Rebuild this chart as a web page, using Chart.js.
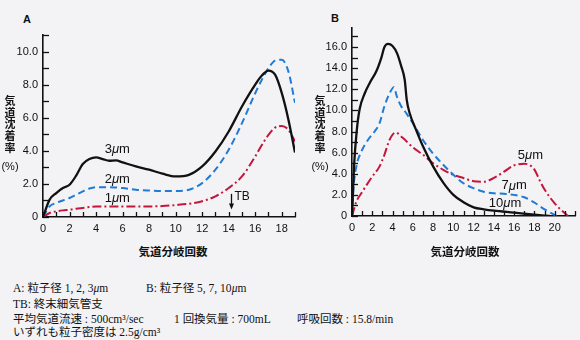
<!DOCTYPE html>
<html>
<head>
<meta charset="utf-8">
<script src="https://cdn.jsdelivr.net/npm/chart.js@4.4.1/dist/chart.umd.min.js"></script>
<style>
  html, body { margin: 0; padding: 0; }
  body { width: 580px; height: 340px; overflow: hidden; background: #f3f3f6; position: relative;
         font-family: "Liberation Sans", Arial, sans-serif; color: #111; }
  .panel { position: absolute; top: 0; }
  .ytitle { position: absolute; top: 95px; width: 20px; text-align: center;
            font: bold 11px "Noto Sans CJK JP", sans-serif; line-height: 11.7px; }
  .ytitle .pct { font: 11px "Liberation Sans", Arial, sans-serif; margin-top: 6px; }
  .xtitle { position: absolute; top: 243px; font: bold 11.5px "Noto Sans CJK JP", sans-serif; transform: translateX(-50%); white-space: nowrap; }
  .tag { position: absolute; font: bold 11px "Liberation Sans", Arial, sans-serif; }
  .cap { position: absolute; font: 11.5px "Liberation Serif", "Noto Sans CJK JP", serif; line-height: 14px; white-space: nowrap; }
</style>
</head>
<body>
<div class="tag" style="left:23px;top:13px">A</div>
<div class="tag" style="left:331px;top:12px">B</div>

<canvas id="chartA" class="panel" style="left:0" width="300" height="240"></canvas>
<canvas id="chartB" class="panel" style="left:290px" width="290" height="240"></canvas>

<div class="ytitle" style="left:0">気<br>道<br>沈<br>着<br>率<div class="pct">(%)</div></div>
<div class="ytitle" style="left:310px">気<br>道<br>沈<br>着<br>率<div class="pct">(%)</div></div>

<div class="xtitle" style="left:173px">気道分岐回数</div>
<div class="xtitle" style="left:465px">気道分岐回数</div>

<div class="cap" style="left:13px;top:281px">A: 粒子径 1, 2, 3<i>μ</i>m</div>
<div class="cap" style="left:146px;top:281px">B: 粒子径 5, 7, 10<i>μ</i>m</div>
<div class="cap" style="left:13px;top:297px">TB: 終末細気管支</div>
<div class="cap" style="left:13px;top:312px">平均気道流速 : 500cm³/sec</div>
<div class="cap" style="left:174px;top:312px">1 回換気量 : 700mL</div>
<div class="cap" style="left:297px;top:312px">呼吸回数 : 15.8/min</div>
<div class="cap" style="left:13px;top:325px">いずれも粒子密度は 2.5g/cm³</div>

<script>
// ===== DATA: panel A (particle size 1, 2, 3 um) =====
const genA = [0, 0.5, 1, 1.5, 2, 2.5, 3, 3.5, 4, 4.5, 5, 5.5, 6, 7, 8, 9, 10, 11, 12, 13, 14, 15, 16, 16.5, 17, 17.5, 18, 18.5, 19];
const dep3um = [0, 1.05, 1.45, 1.75, 1.95, 2.5, 3.2, 3.5, 3.6, 3.5, 3.4, 3.42, 3.3, 3.06, 2.86, 2.62, 2.45, 2.55, 3.06, 3.96, 5.17, 6.68, 8.0, 8.55, 8.85, 8.6, 7.5, 5.9, 3.9];
const dep2um = [0, 0.64, 0.85, 1.0, 1.15, 1.35, 1.55, 1.72, 1.8, 1.8, 1.8, 1.78, 1.75, 1.65, 1.6, 1.57, 1.57, 1.65, 2.05, 2.86, 4.06, 5.67, 7.48, 8.3, 9.0, 9.45, 9.5, 8.8, 6.9];
const dep1um = [0, 0.24, 0.34, 0.4, 0.44, 0.5, 0.55, 0.6, 0.64, 0.64, 0.64, 0.64, 0.64, 0.64, 0.64, 0.66, 0.72, 0.8, 0.95, 1.25, 1.75, 2.45, 3.66, 4.35, 4.97, 5.4, 5.5, 5.27, 4.57];

// ===== DATA: panel B (particle size 5, 7, 10 um) =====
const gen10um = [0, 0.2, 0.45, 0.75, 1.25, 1.75, 2.4, 2.9, 3.2, 3.55, 4.0, 4.45, 4.85, 5.2, 5.4, 5.7, 6.3, 7, 8, 9, 10, 11, 12, 13, 14, 16, 18, 19.5];
const dep10um = [0, 4.7, 7.9, 10.1, 11.6, 12.6, 13.7, 15.0, 16.0, 16.3, 16.1, 15.4, 14.2, 12.9, 11.0, 9.7, 8.2, 6.6, 4.7, 3.16, 2.0, 1.3, 0.82, 0.63, 0.5, 0.32, 0.13, 0];
const gen7um = [0, 0.16, 0.43, 0.92, 1.57, 2.23, 2.72, 3.2, 3.7, 4.13, 4.43, 4.85, 5.34, 6, 7, 8, 9, 10, 11, 12, 13, 14, 15, 16, 17, 18, 19, 20.2];
const dep7um = [0, 2.8, 4.7, 6.1, 7.2, 8.0, 8.8, 10.4, 11.6, 12.2, 11.3, 10.4, 9.75, 8.8, 7.2, 5.9, 4.85, 3.9, 3.1, 2.63, 2.3, 2.15, 2.1, 2.0, 1.77, 1.27, 0.63, 0];
const gen5um = [0, 0.43, 0.92, 1.9, 2.72, 3.2, 3.7, 4.3, 5, 6, 7, 8, 9, 10, 11, 12, 13, 14, 15, 16, 17, 18, 18.5, 19, 20, 21, 21.3];
const dep5um = [0, 1.36, 2.15, 3.6, 4.7, 5.8, 7.2, 7.9, 7.4, 6.5, 5.8, 5.0, 4.37, 3.9, 3.6, 3.3, 3.25, 3.6, 4.2, 4.8, 4.95, 4.4, 3.4, 2.5, 1.2, 0.25, 0];

// axis ranges and tick labels
const xMaxA = 19, yMaxA = 11;
const xMaxB = 22, yMaxB = 17.8;
const xLabelsA = [0, 2, 4, 6, 8, 10, 12, 14, 16, 18];
const yLabelsA = [0, 2, 4, 6, 8, 10];
const xLabelsB = [0, 2, 4, 6, 8, 10, 12, 14, 16, 18, 20];
const yLabelsB = [0, 2, 4, 6, 8, 10, 12, 14, 16];

// curve labels [text, generation, deposition]
const labelsA = [['3', 5.6, 4.06], ['2', 5.6, 2.3], ['1', 5.6, 1.1]];
const labelsB = [['5', 17.6, 5.7], ['7', 16.0, 2.85], ['10', 15.1, 1.15]];
const tbGen = 14.2;

const BLACK = '#111111';
const BLUE = '#1f7bd6';
const RED = '#c3163c';

Chart.defaults.font.family = '"Liberation Sans", Arial, sans-serif';
Chart.defaults.font.size = 11;
Chart.defaults.color = '#111';

function pts(xs, ys) {
    return xs.map((x, i) => ({ x: x, y: ys[i] }));
}

function series(xs, ys, color, dash, width) {
    return {
        data: pts(xs, ys),
        borderColor: color,
        borderWidth: width || 2,
        borderDash: dash,
        pointRadius: 0,
        showLine: true,
        cubicInterpolationMode: 'monotone',
        fill: false
    };
}

// ===== INWARD TICK MARKS =====
const inwardTicks = {
    id: 'inwardTicks',
    afterDraw(chart) {
        const { ctx, chartArea, scales } = chart;
        ctx.save();
        ctx.strokeStyle = '#111';
        ctx.lineWidth = 1.3;
        scales.x.ticks.forEach(t => {
            const px = Math.round(scales.x.getPixelForValue(t.value)) + 0.5;
            ctx.beginPath();
            ctx.moveTo(px, chartArea.bottom);
            ctx.lineTo(px, chartArea.bottom - 5);
            ctx.stroke();
        });
        scales.y.ticks.forEach(t => {
            const py = Math.round(scales.y.getPixelForValue(t.value)) + 0.5;
            ctx.beginPath();
            ctx.moveTo(chartArea.left, py);
            ctx.lineTo(chartArea.left + 6, py);
            ctx.stroke();
        });
        ctx.restore();
    }
};

// ===== CURVE LABELS ("3μm" etc.) AND TB ARROW =====
const curveLabels = {
    id: 'curveLabels',
    afterDatasetsDraw(chart, args, opts) {
        const { ctx, scales } = chart;
        ctx.save();
        ctx.fillStyle = '#111';
        ctx.textBaseline = 'middle';
        (opts.items || []).forEach(([num, gx, gy]) => {
            const parts = [[num, '13px "Liberation Sans", Arial'], ['μ', 'italic 13px "Liberation Sans", Arial'], ['m', '13px "Liberation Sans", Arial']];
            let w = 0;
            parts.forEach(p => { ctx.font = p[1]; w += ctx.measureText(p[0]).width; });
            let x = scales.x.getPixelForValue(gx) - w / 2;
            const y = scales.y.getPixelForValue(gy);
            parts.forEach(p => {
                ctx.font = p[1];
                ctx.fillText(p[0], x, y);
                x += ctx.measureText(p[0]).width;
            });
        });
        if (opts.tb !== undefined) {
            const px = Math.round(scales.x.getPixelForValue(opts.tb)) + 0.5;
            const top = scales.y.getPixelForValue(1.4);
            const bot = scales.y.getPixelForValue(0.45);
            ctx.strokeStyle = '#111';
            ctx.lineWidth = 1.3;
            ctx.beginPath();
            ctx.moveTo(px, top);
            ctx.lineTo(px, bot - 4);
            ctx.stroke();
            ctx.beginPath();
            ctx.moveTo(px - 2.5, bot - 6);
            ctx.lineTo(px + 2.5, bot - 6);
            ctx.lineTo(px, bot);
            ctx.closePath();
            ctx.fill();
            ctx.font = '12px "Liberation Sans", Arial';
            ctx.textBaseline = 'top';
            ctx.fillText('TB', px + 3, top - 3);
        }
        ctx.restore();
    }
};

function makeChart(id, datasets, cfg) {
    return new Chart(document.getElementById(id), {
        type: 'scatter',
        data: { datasets: datasets },
        plugins: [inwardTicks, curveLabels],
        options: {
            responsive: false,
            devicePixelRatio: 1,
            animation: false,
            layout: { padding: cfg.padding },
            plugins: {
                legend: { display: false },
                tooltip: { enabled: false },
                curveLabels: { items: cfg.labels, tb: cfg.tb }
            },
            scales: {
                x: {
                    type: 'linear',
                    min: 0,
                    max: cfg.xMax,
                    grid: { display: false, drawTicks: false },
                    border: { display: true, color: '#111', width: 1.6 },
                    afterBuildTicks: s => { s.ticks = []; for (let v = 0; v <= cfg.xMax; v++) s.ticks.push({ value: v }); },
                    afterFit: s => { s.height = cfg.xHeight; },
                    ticks: {
                        autoSkip: false,
                        maxRotation: 0,
                        padding: 5,
                        callback: v => cfg.xLabels.includes(v) ? String(v) : ''
                    }
                },
                y: {
                    type: 'linear',
                    min: 0,
                    max: cfg.yMax,
                    grid: { display: false, drawTicks: false },
                    border: { display: true, color: '#111', width: 1.6 },
                    afterBuildTicks: s => { s.ticks = []; for (let v = 0; v <= cfg.yMax; v++) s.ticks.push({ value: v }); },
                    afterFit: s => { s.width = cfg.yWidth; },
                    ticks: {
                        autoSkip: false,
                        padding: 5,
                        callback: v => cfg.yLabels.includes(v) ? (v === 0 ? '0' : v.toFixed(1)) : ''
                    }
                }
            }
        }
    });
}

makeChart('chartA', [
    series(genA, dep3um, BLACK, [], 2.3),
    series(genA, dep2um, BLUE, [7, 4]),
    series(genA, dep1um, RED, [9, 3, 2, 3])
], {
    xMax: xMaxA, yMax: yMaxA, xLabels: xLabelsA, yLabels: yLabelsA,
    padding: { left: 0, right: 2, top: 35, bottom: 0 },
    xHeight: 23, yWidth: 43, labels: labelsA, tb: tbGen
});

makeChart('chartB', [
    series(gen10um, dep10um, BLACK, [], 2.3),
    series(gen7um, dep7um, BLUE, [7, 4]),
    series(gen5um, dep5um, RED, [9, 3, 2, 3])
], {
    xMax: xMaxB, yMax: yMaxB, xLabels: xLabelsB, yLabels: yLabelsB,
    padding: { left: 0, right: 4, top: 28, bottom: 0 },
    xHeight: 24, yWidth: 62, labels: labelsB
});
</script>
</body>
</html>
